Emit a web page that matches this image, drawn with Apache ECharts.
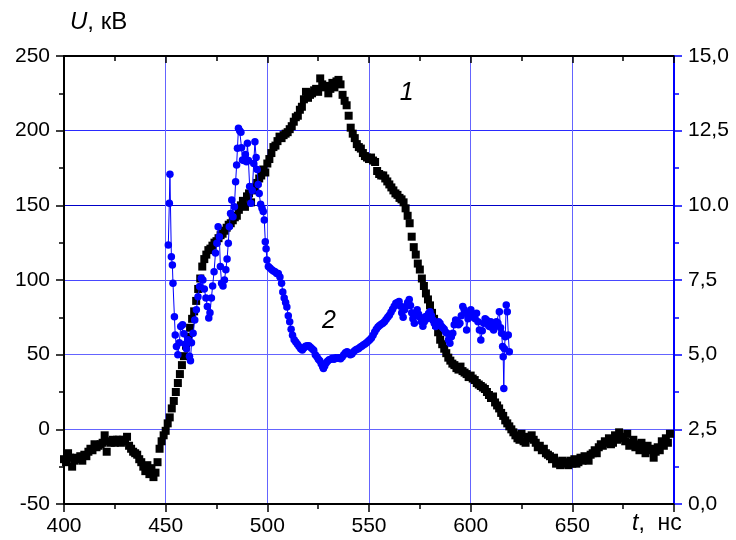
<!DOCTYPE html>
<html>
<head>
<meta charset="utf-8">
<script src="https://cdn.jsdelivr.net/npm/echarts@6/dist/echarts.min.js"></script>
<style>html,body{margin:0;padding:0;background:#fff;}#c{width:736px;height:540px;}</style>
</head>
<body>
<div id="c"></div>
<script>
// Curve 1: U, kV, sampled every 1 ns starting at 400 ns
const blackT0 = 400;
const blackU = [
-20,-22,-16,-19,-25,-21,-19,-20,-18,-21,
-17,-18,-15,-13,-14,-10,-12,-11,-10,-9,
-4,-15,-8,-9,-7,-9,-7,-7,-9,-7,
-8,-5,-11,-13,-15,-16,-17,-20,-22,-25,
-28,-24,-30,-26,-32,-29,-22,-13,-8,-4,
-1,4,8,14,19,25,31,37,43,49,
56,62,68,74,79,86,94,101,109,114,
117,120,121,123,125,126,128,130,131,133,
135,137,138,140,142,143,147,150,153,149,
156,158,152,160,162,165,168,170,174,172,
178,181,185,189,190,193,196,195,197,198,
199,201,203,206,209,210,214,216,221,226,
222,224,225,227,228,226,235,231,229,230,
225,228,232,229,233,234,231,224,220,217,
210,202,198,195,191,189,188,185,183,182,
181,182,180,179,173,171,170,170,168,166,
164,162,160,158,157,155,154,152,148,143,
138,129,122,117,111,107,101,96,91,87,
83,78,74,70,65,60,57,54,51,48,
46,44,43,41,40,42,39,38,37,35,
36,34,33,31,30,29,28,27,25,23,
21,22,18,16,14,11,9,6,4,2,
0,-2,-4,-6,-7,-3,-8,-9,-5,-6,
-4,-7,-9,-12,-11,-14,-13,-16,-17,-18,
-20,-19,-23,-22,-24,-21,-23,-22,-24,-21,
-23,-20,-23,-22,-19,-21,-18,-20,-21,-17,
-16,-14,-16,-12,-10,-11,-8,-9,-6,-10,
-9,-4,-7,-2,-6,-5,-8,-3,-11,-9,
-7,-12,-10,-14,-9,-12,-16,-11,-14,-13,
-19,-15,-12,-14,-8,-11,-6,-9,-3
];

// Curve 2: right-axis values
const blueT = [
451.3,451.8,452.1,452.8,453.3,453.6,454.3,454.7,455.3,456.0,456.7,457.4,458.3,459.0,459.6,460.2,461.0,461.7,462.2,462.7,
463.5,464.3,465.1,465.9,466.7,467.5,468.3,469.0,469.8,470.5,471.2,471.8,472.5,473.1,473.8,474.5,475.2,475.8,476.4,476.9,
477.5,478.2,478.9,479.6,480.2,480.8,481.3,481.9,482.5,483.1,483.8,484.4,484.9,485.3,485.8,486.4,487.0,487.3,487.8,488.5,
489.2,489.8,490.2,490.7,491.3,491.9,492.6,493.3,493.9,494.5,495.0,495.5,496.0,496.7,497.4,498.0,498.5,499.0,499.4,499.8,
500.5,501.3,502.2,503.0,503.8,504.6,505.4,506.2,507.0,507.6,508.3,509.0,509.6,510.3,511.0,511.7,512.4,513.2,514.0,514.8,
515.6,516.4,517.2,518.0,518.8,519.6,520.4,521.2,522.0,522.8,523.6,524.4,525.1,525.8,526.5,527.2,527.6,528.2,528.9,529.6,
530.4,531.2,532.0,532.8,533.6,534.4,535.2,536.0,536.8,537.6,538.4,539.2,540.0,540.8,541.6,542.4,543.2,544.0,544.8,545.6,
546.4,547.2,548.0,548.8,549.6,550.4,551.2,552.0,552.8,553.6,554.4,555.2,556.0,556.8,557.6,558.4,559.2,560.0,560.8,561.6,
562.4,563.2,564.0,564.8,565.5,566.1,566.8,567.5,568.2,569.0,569.8,570.4,571.0,571.6,572.3,573.0,573.7,574.4,575.1,575.8,
576.5,577.2,577.9,578.6,579.3,580.0,580.7,581.4,582.1,582.8,583.5,584.2,584.9,585.6,586.3,587.0,587.7,588.4,589.1,589.8,
590.5,591.2,591.9,592.6,593.3,594.0,594.7,595.4,596.1,596.8,597.5,598.0,598.7,599.4,600.1,600.8,601.5,602.2,602.9,603.6,
604.3,605.0,605.7,606.4,607.1,607.8,608.5,609.2,609.9,610.6,611.3,612.0,612.7,613.4,614.1,614.7,615.2,615.7,616.0,616.3,
616.6,617.0,617.5,618.0,618.5,619.0
];
const blueV = [
8.67,10.07,11.04,8.28,8.0,7.39,6.27,5.66,5.27,5.0,5.4,5.94,6.0,5.7,5.35,5.2,5.5,4.95,4.8,5.4,
5.72,6.16,6.5,6.94,7.28,7.56,7.5,7.2,6.9,6.61,6.23,6.4,6.9,7.3,7.78,8.4,8.73,9.28,8.95,7.95,
7.39,7.3,7.5,7.84,8.2,8.73,9.28,9.73,10.18,9.62,9.95,10.79,11.35,11.91,12.58,12.5,12.45,11.93,11.52,11.5,
11.7,11.46,12.08,11.5,10.63,10.07,10.5,11.4,12.13,11.6,11.2,10.7,10.4,10.04,9.9,9.79,9.51,8.78,8.55,8.17,
7.95,7.9,7.84,7.8,7.78,7.72,7.72,7.6,7.39,7.1,6.9,6.75,6.6,6.3,6.1,5.85,5.65,5.5,5.42,5.35,
5.27,5.2,5.16,5.22,5.28,5.3,5.3,5.25,5.2,5.15,5.0,4.93,4.85,4.8,4.7,4.6,4.54,4.62,4.72,4.78,
4.83,4.85,4.88,4.85,4.9,4.88,4.9,4.86,4.92,5.0,5.06,5.1,5.05,5.0,5.02,5.1,5.15,5.18,5.2,5.25,
5.28,5.32,5.36,5.4,5.45,5.5,5.56,5.65,5.76,5.85,5.93,5.98,6.02,6.05,6.1,6.18,6.25,6.32,6.42,6.52,
6.62,6.72,6.75,6.78,6.62,6.4,6.25,6.5,6.62,6.75,6.85,6.65,6.4,6.2,6.05,6.3,6.5,6.35,6.25,6.1,
5.95,6.1,6.28,6.2,6.38,6.44,6.3,6.16,6.05,5.94,6.0,6.1,6.05,5.95,5.9,5.85,5.75,5.72,5.5,5.38,
5.6,5.72,6.0,6.16,6.1,6.0,6.05,6.3,6.61,6.5,6.4,5.83,6.2,6.39,6.5,6.27,6.35,6.2,6.39,6.1,
5.83,5.49,5.8,6.05,6.2,6.16,6.0,5.94,6.1,5.9,5.83,6.0,6.1,6.05,6.44,5.9,5.72,5.27,4.93,3.87,
5.2,5.6,6.66,6.44,5.66,5.1
];

const rightTicks = [0, 2.5, 5, 7.5, 10, 12.5, 15];
const rightTickLabels = ['0,0', '2,5', '5,0', '7,5', '10.0', '12,5', '15,0'];
// curve-number annotations, in [t, U] data units
const curveLabels = [['1', 568.5, 225], ['2', 530.3, 72.5]];

const FONT = 'Liberation Sans, Arial, sans-serif';
const blackData = blackU.map((v, i) => [blackT0 + i, v]);
const blueData = blueT.map((t, i) => [t, blueV[i]]);

const chart = echarts.init(document.getElementById('c'), null, {renderer: 'canvas'});
const gridBlue = '#6464ff';
chart.setOption({
  animation: false,
  backgroundColor: '#fff',
  grid: {left: 64, right: 62, top: 56, bottom: 36, containLabel: false},
  xAxis: [{
    type: 'value', min: 400, max: 700, interval: 50, position: 'bottom',
    axisLine: {show: true, onZero: false, lineStyle: {color: '#000', width: 2}},
    axisTick: {show: true, inside: false, length: 8, lineStyle: {color: '#000', width: 1.5}},
    minorTick: {show: true, splitNumber: 2, length: 5, lineStyle: {color: '#000', width: 1.5}},
    axisLabel: {margin: 12, color: '#000', fontSize: 21, fontFamily: FONT, showMaxLabel: false},
    splitLine: {show: true, showMinLine: false, showMaxLine: false, lineStyle: {color: gridBlue, width: 1}}
  }, {
    type: 'value', min: 400, max: 700, interval: 50, position: 'top',
    axisLine: {show: true, onZero: false, lineStyle: {color: '#000', width: 2}},
    axisTick: {show: true, inside: true, length: 7, lineStyle: {color: '#000', width: 1.5}},
    minorTick: {show: true, splitNumber: 2, length: 5, lineStyle: {color: '#000', width: 1.5}},
    axisLabel: {show: false},
    splitLine: {show: false}
  }],
  yAxis: [{
    type: 'value', min: -50, max: 250, interval: 50, position: 'left',
    axisLine: {show: true, onZero: false, lineStyle: {color: '#000', width: 2}},
    axisTick: {show: true, inside: false, length: 8, lineStyle: {color: '#000', width: 1.5}},
    minorTick: {show: true, splitNumber: 2, length: 5, lineStyle: {color: '#000', width: 1.5}},
    axisLabel: {margin: 14, color: '#000', fontSize: 21, fontFamily: FONT},
    splitLine: {show: true, showMinLine: false, showMaxLine: false,
      lineStyle: {color: [gridBlue, gridBlue, '#4848ff', '#0000c8', '#2a2aff'], width: 1}}
  }, {
    type: 'value', min: 0, max: 15, interval: 2.5, position: 'right',
    axisLine: {show: true, onZero: false, lineStyle: {color: '#0000ff', width: 2}},
    axisTick: {show: true, inside: false, length: 8, lineStyle: {color: '#0000ff', width: 1.5}},
    minorTick: {show: true, splitNumber: 2, length: 5, lineStyle: {color: '#0000ff', width: 1.5}},
    axisLabel: {margin: 14, color: '#000', fontSize: 21, fontFamily: FONT,
      formatter: v => { const k = rightTicks.indexOf(v); return k >= 0 ? rightTickLabels[k] : ''; }},
    splitLine: {show: false}
  }],
  series: [{
    type: 'scatter', xAxisIndex: 0, yAxisIndex: 0, data: blackData,
    symbol: 'rect', symbolSize: 8,
    itemStyle: {color: '#000', opacity: 1},
    z: 3
  }, {
    type: 'line', xAxisIndex: 0, yAxisIndex: 1, data: blueData,
    symbol: 'circle', symbolSize: 7.5, showAllSymbol: true,
    itemStyle: {color: '#0000ff'}, lineStyle: {color: '#0000ff', width: 1},
    z: 4
  }]
});

const graphics = [
  {type: 'text', left: 70, top: 10, style: {
    text: '{i|U}{n|, кВ}', rich: {
      i: {fontStyle: 'italic', fontSize: 24, fontFamily: FONT, fill: '#000'},
      n: {fontSize: 24, fontFamily: FONT, fill: '#000'}}
  }},
  {type: 'text', left: 632, top: 512, style: {
    text: '{i|t}{n|,  нс}', rich: {
      i: {fontStyle: 'italic', fontSize: 23, fontFamily: FONT, fill: '#000'},
      n: {fontSize: 23, fontFamily: FONT, fill: '#000'}}
  }}
];
curveLabels.forEach(c => {
  const p = chart.convertToPixel({xAxisIndex: 0, yAxisIndex: 0}, [c[1], c[2]]);
  graphics.push({type: 'text', x: p[0], y: p[1], z: 10, style: {
    text: c[0], fontStyle: 'italic', fontSize: 25, fontFamily: FONT, fill: '#000',
    align: 'center', verticalAlign: 'middle'}});
});
chart.setOption({graphic: graphics});
</script>
</body>
</html>
